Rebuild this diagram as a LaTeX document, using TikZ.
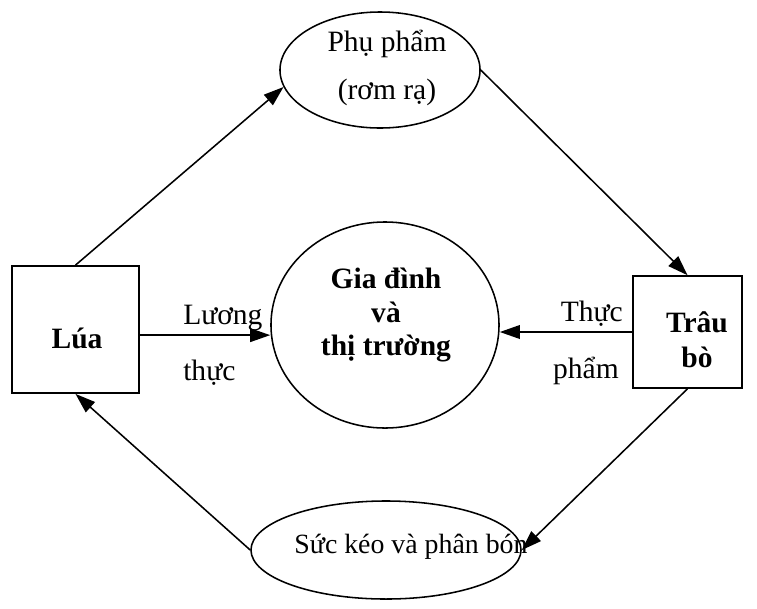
\documentclass[tikz,border=0pt]{standalone}
\usepackage{fontspec}
\setmainfont{Liberation Serif}
\usepackage{tikz}
\usetikzlibrary{shapes,arrows.meta,positioning}

\begin{document}
\begin{tikzpicture}[
    x=0.025cm, y=-0.025cm,
    crop/.style={rectangle, draw, line width=1.1pt, inner sep=0pt},
    product/.style={ellipse, draw, line width=1.1pt, inner sep=0pt},
    market/.style={ellipse, draw, line width=1.1pt, inner sep=0pt},
    flowtext/.style={inner sep=0pt, font=\fontsize{21}{25}\selectfont},
    boldtext/.style={inner sep=0pt, align=center, font=\fontsize{21}{24.8}\selectfont\bfseries},
    flow/.style={line width=1.1pt, -{Triangle[length=5mm, width=3.4mm]}}
]

% Page frame
\useasboundingbox (0,0) rectangle (757,608);

% Rice and cattle
\node[crop, minimum width=3.18cm, minimum height=3.18cm] (lua) at (75.5,329.5) {};
\node[boldtext] (luatext) at (77,338) {Lúa};
\node[crop, minimum width=2.73cm, minimum height=2.8cm] (trau) at (687.5,332) {};
\node[boldtext] (trautext) at (697,340) {Trâu\\bò};

% By-products
\node[product, minimum width=5cm, minimum height=2.9cm] (phupham) at (380,70) {};
\node[flowtext, font=\fontsize{21}{34}\selectfont, align=center] (phuphamtext) at (387,68) {Phụ phẩm\\(rơm rạ)};
\node[product, minimum width=6.75cm, minimum height=2.45cm] (suckeo) at (386,550) {};
\node[flowtext, font=\fontsize{19.8}{23}\selectfont] (suckeotext) at (411,547) {Sức kéo và phân bón};

% Household and market
\node[market, minimum width=5.7cm, minimum height=5.15cm] (giadinh) at (385,325) {};
\node[boldtext, font=\fontsize{21}{23.8}\selectfont\bfseries] (giadinhtext) at (386,315) {Gia đình\\và\\thị trường};

% Cycle
\draw[flow] (lua.north) -- (phupham.190);
\draw[flow] (phupham.east) -- (trau.north);
\draw[flow] (trau.south) -- (suckeo.east);
\draw[flow] (suckeo.west) -- (lua.south);

% Food to the household
\draw[flow] (lua.-5) -- (lua.-5 -| giadinh.west);
\draw[flow] (trau.west) -- (trau.west -| giadinh.east);

% Flow labels
\node[flowtext, anchor=base west] (luong) at (183,324) {Lương};
\node[flowtext, anchor=base west] (thuc) at (183,380) {thực};
\node[flowtext, anchor=base east] (thucpham) at (623,321) {Thực};
\node[flowtext, anchor=base east] (pham) at (619,378) {phẩm};

\end{tikzpicture}
\end{document}
